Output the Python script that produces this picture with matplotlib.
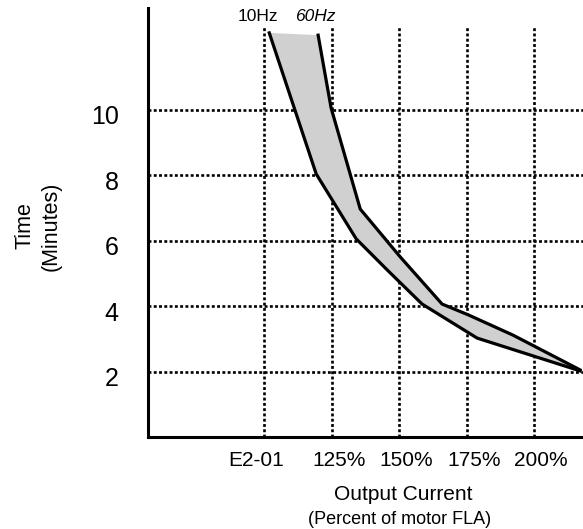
import matplotlib
matplotlib.use("Agg")
import matplotlib.pyplot as plt
import matplotlib.transforms as mtransforms

plt.rcParams['font.family'] = ['Liberation Sans', 'DejaVu Sans']

# Curve data (x in % of motor FLA, y in minutes)
hz10_x = [101.9, 119.3, 134.1, 145.6, 158.5, 178.9, 217.0]
hz10_y = [12.34, 8.03, 6.05, 5.10, 4.06, 3.02, 2.02]
hz60_x = [120.0, 124.8, 135.6, 150.4, 165.9, 175.6, 192.2, 217.0]
hz60_y = [12.27, 10.05, 6.96, 5.50, 4.06, 3.73, 3.11, 2.05]

x_ticks = [100, 125, 150, 175, 200]
x_labels = ["E2-01", "125%", "150%", "175%", "200%"]
y_ticks = [2, 4, 6, 8, 10]

fig = plt.figure(figsize=(5.83, 5.29), dpi=100)
ax = fig.add_axes([0.2539, 0.1739, 0.7461, 0.811])
ax.set_xlim(57.0, 218.1)
ax.set_ylim(0, 13.1)

dots = (0, (1.1, 0.9))
for y in y_ticks:
    ax.plot([57.0, 218.1], [y, y], color="black", lw=1.9, linestyle=dots, zorder=1)
for x in x_ticks:
    ax.plot([x, x], [0, 12.55], color="black", lw=1.9, linestyle=dots, zorder=1)

# shaded band between the 10Hz and 60Hz curves
ax.fill(hz10_x + hz60_x[::-1], hz10_y + hz60_y[::-1], color="#d0d0d0", lw=0, zorder=2)
ax.plot(hz10_x, hz10_y, color="black", lw=2.3, zorder=3, solid_joinstyle="miter")
ax.plot(hz60_x, hz60_y, color="black", lw=2.3, zorder=3, solid_joinstyle="miter")

ax.text(97.6, 12.85, "10Hz", fontsize=12.5, ha="center", va="center")
ax.text(118.9, 12.85, "60Hz", fontsize=12.5, style="italic", ha="center", va="center")

for s in ["top", "right"]:
    ax.spines[s].set_visible(False)
for s in ["left", "bottom"]:
    ax.spines[s].set_linewidth(2.2)

ax.set_xticks(x_ticks)
ax.set_xticklabels(x_labels, fontsize=15)
ax.set_yticks(y_ticks)
ax.set_yticklabels([str(v) for v in y_ticks], fontsize=18)
ax.tick_params(axis="x", length=0, pad=10)
ax.tick_params(axis="y", length=0, pad=21)

offsets = [-8, 7, 7, 7, 7]
for lab, dx in zip(ax.get_xticklabels(), offsets):
    lab.set_transform(lab.get_transform() + mtransforms.ScaledTranslation(dx / 100, 0, fig.dpi_scale_trans))
for lab in ax.get_yticklabels():
    lab.set_transform(lab.get_transform() + mtransforms.ScaledTranslation(0, -5 / 100, fig.dpi_scale_trans))

fig.text(38 / 583, 1 - 226 / 529, "Time\n(Minutes)", rotation=90, fontsize=15.5,
         ha="center", va="center", multialignment="center", linespacing=1.35)
fig.text(403 / 583, 1 - 494 / 529, "Output Current", fontsize=15, ha="center", va="center")
fig.text(400 / 583, 1 - 519 / 529, "(Percent of motor FLA)", fontsize=13, ha="center", va="center")

fig.savefig("out.png", dpi=100)
